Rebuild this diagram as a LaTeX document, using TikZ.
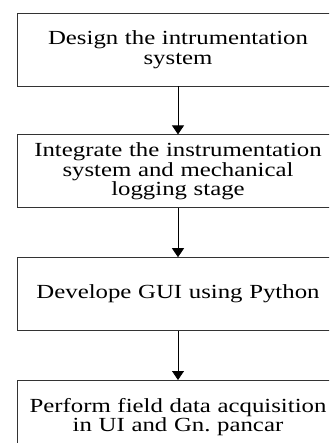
\documentclass[tikz,border=0pt]{standalone}
\usepackage{fontspec}
\setmainfont{Liberation Serif}[FakeStretch=1.24]
\usetikzlibrary{arrows.meta,positioning}
\tikzset{
    %Define standard arrow tip
    >={Triangle[width=12pt,length=9pt]},
    %Define style for boxes
    stage/.style={
           rectangle,
           draw=black!80, line width=0.8pt,
           text width=312pt,
           minimum width=322pt,
           minimum height=73pt,
           align=center,
           font=\fontsize{20}{19.5}\selectfont},
    % Define arrow style
    flow/.style={
           ->,
           line width=0.8pt}
}
\begin{document}
\begin{tikzpicture}[x=1pt,y=1pt,node distance=48pt]

\path[use as bounding box,clip] (0,0) rectangle (329,-443);

\node[stage] (design) at (178,-49.5) {Design the intrumentation\\system};
\node[stage, below=of design] (integrate) {Integrate the instrumentation\\system and mechanical\\logging stage};
\node[stage, below=49pt of integrate] (gui) {Develope GUI using Python};
\node[stage, below=49pt of gui] (field) {Perform field data acquisition\\in UI and Gn.\ pancar};

\path[flow]
    (design) edge (integrate)
    (integrate) edge (gui)
    (gui) edge (field);

\end{tikzpicture}
\end{document}
